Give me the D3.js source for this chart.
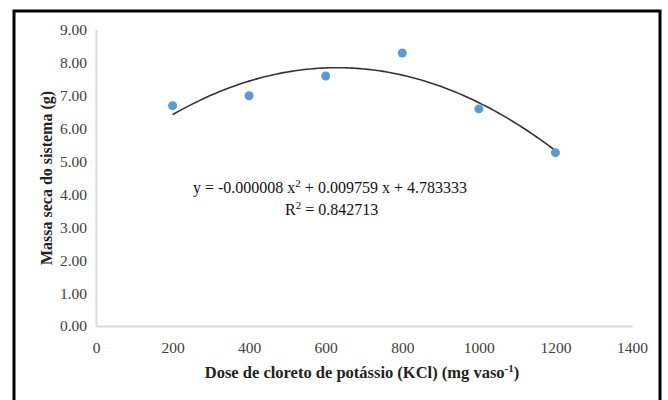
<!DOCTYPE html>
<html>
<head>
<meta charset="utf-8">
<script src="https://cdn.jsdelivr.net/npm/d3@7"></script>
<style>
  body { margin: 0; background: #fff; }
  text { font-family: "Liberation Serif", "DejaVu Serif", serif; }
</style>
</head>
<body>
<div id="chart"></div>
<script>
// data
var doses = [200, 400, 600, 800, 1000, 1200];
var massa = [6.70, 7.00, 7.60, 8.30, 6.60, 5.27];
var xTicks = [0, 200, 400, 600, 800, 1000, 1200, 1400];
var yTicks = [0, 1, 2, 3, 4, 5, 6, 7, 8, 9];
var eqParts = ["y = -0.000008 x", "2", " + 0.009759 x + 4.783333"];
var r2Value = "0.842713";

var width = 668, height = 400;
var margin = {left: 96, right: 36, top: 30, bottom: 74};

var svg = d3.select("#chart").append("svg")
  .attr("width", width)
  .attr("height", height);

// outer frame (open at the bottom, like the cropped figure)
svg.append("path")
  .attr("d", "M14,400 L14,11 L660,11 L660,400")
  .attr("fill", "none")
  .attr("stroke", "#000")
  .attr("stroke-width", 3);

var x = d3.scaleLinear().domain([0, 1400]).range([margin.left, width - margin.right]);
var y = d3.scaleLinear().domain([0, 9]).range([height - margin.bottom, margin.top]);

// axes
var xAxis = svg.append("g")
  .attr("transform", "translate(0," + y(0) + ")")
  .call(d3.axisBottom(x).tickValues(xTicks).tickSize(0).tickPadding(16).tickFormat(d3.format("d")));
var yAxis = svg.append("g")
  .attr("transform", "translate(" + x(0) + ",0)")
  .call(d3.axisLeft(y).tickValues(yTicks).tickSize(0).tickPadding(9).tickFormat(d3.format(".2f")));

[xAxis, yAxis].forEach(function(a) {
  a.select(".domain").attr("stroke", "#d9d9d9").attr("stroke-width", 2);
  a.selectAll("text")
    .attr("font-family", "'Liberation Serif', serif")
    .attr("font-size", 15.5)
    .attr("fill", "#404040");
});

// quadratic least-squares fit of the points
function quadFit(xs, ys) {
  var S = [0, 0, 0, 0, 0], T = [0, 0, 0];
  xs.forEach(function(xv, i) {
    for (var k = 0; k < 5; k++) S[k] += Math.pow(xv, k);
    for (var k2 = 0; k2 < 3; k2++) T[k2] += ys[i] * Math.pow(xv, k2);
  });
  var M = [[S[0], S[1], S[2], T[0]], [S[1], S[2], S[3], T[1]], [S[2], S[3], S[4], T[2]]];
  for (var c = 0; c < 3; c++) {
    for (var r = c + 1; r < 3; r++) {
      var f = M[r][c] / M[c][c];
      for (var j = c; j < 4; j++) M[r][j] -= f * M[c][j];
    }
  }
  var sol = [0, 0, 0];
  for (var r2 = 2; r2 >= 0; r2--) {
    var s = M[r2][3];
    for (var j2 = r2 + 1; j2 < 3; j2++) s -= M[r2][j2] * sol[j2];
    sol[r2] = s / M[r2][r2];
  }
  return sol; // c, b, a
}
var coef = quadFit(doses, massa);
var curve = d3.range(200, 1201, 10).map(function(d) {
  return [d, coef[0] + coef[1] * d + coef[2] * d * d];
});

svg.append("path")
  .datum(curve)
  .attr("fill", "none")
  .attr("stroke", "#333")
  .attr("stroke-width", 1.6)
  .attr("d", d3.line().x(function(d) { return x(d[0]); }).y(function(d) { return y(d[1]); }).curve(d3.curveBasis));

// points
svg.append("g").selectAll("circle")
  .data(doses)
  .enter()
  .append("circle")
  .attr("cx", function(d) { return x(d); })
  .attr("cy", function(d, i) { return y(massa[i]); })
  .attr("r", 4.5)
  .attr("fill", "#5b9bd5");

// equation
var eq = svg.append("text")
  .attr("x", 193).attr("y", 193)
  .attr("font-size", 16)
  .attr("fill", "#111");
eq.append("tspan").text(eqParts[0]);
eq.append("tspan").attr("dy", -6).attr("font-size", 11).text(eqParts[1]);
eq.append("tspan").attr("dy", 6).text(eqParts[2]);

var r2 = svg.append("text")
  .attr("x", 285).attr("y", 215)
  .attr("font-size", 16)
  .attr("fill", "#111");
r2.append("tspan").text("R");
r2.append("tspan").attr("dy", -6).attr("font-size", 11).text("2");
r2.append("tspan").attr("dy", 6).text(" = " + r2Value);

// axis titles
svg.append("text")
  .attr("transform", "translate(52,178) rotate(-90)")
  .attr("text-anchor", "middle")
  .attr("font-size", 16)
  .attr("font-weight", "bold")
  .attr("fill", "#222")
  .text("Massa seca do sistema (g)");

var xt = svg.append("text")
  .attr("x", 362).attr("y", 378)
  .attr("text-anchor", "middle")
  .attr("font-size", 16.5)
  .attr("font-weight", "bold")
  .attr("fill", "#222");
xt.append("tspan").text("Dose de cloreto de potássio (KCl) (mg vaso");
xt.append("tspan").attr("dy", -6).attr("font-size", 11).text("-1");
xt.append("tspan").attr("dy", 6).text(")");
</script>
</body>
</html>
